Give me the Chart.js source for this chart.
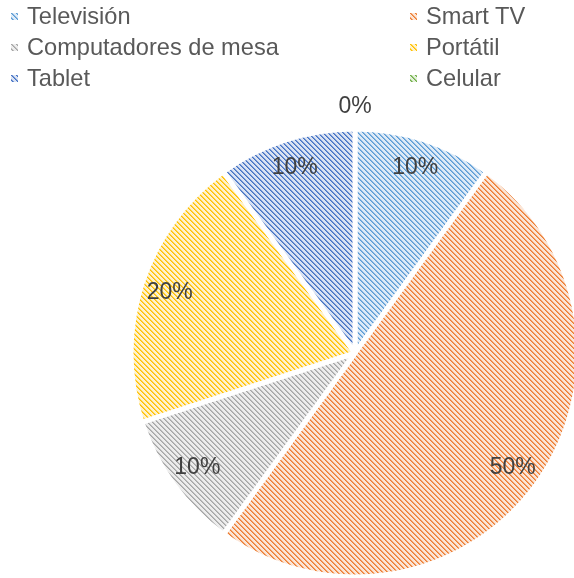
<!DOCTYPE html>
<html>
<head>
<meta charset="utf-8">
<script src="https://cdn.jsdelivr.net/npm/chart.js@4.4.1/dist/chart.umd.min.js"></script>
<style>
  body { margin: 0; background: #fff; }
  #wrap { position: relative; width: 574px; height: 578px; overflow: hidden; }
  #grafico { position: absolute; left: 0; top: 0; }
  .item { position: absolute; font: 23.6px "Liberation Sans", Arial, sans-serif; color: #595959; line-height: 31px; white-space: nowrap; }
  .item canvas { position: absolute; left: -16px; top: 12px; }
</style>
</head>
<body>
<div id="wrap">
  <canvas id="grafico" width="574" height="578"></canvas>
  <div id="leyenda"></div>
</div>
<script>
const categorias = ['Televisión', 'Smart TV', 'Computadores de mesa', 'Portátil', 'Tablet', 'Celular']
const porcentajes = [10, 50, 10, 20, 10, 0]
const coloresLinea = ['#5B9BD5', '#ED7D31', '#A5A5A5', '#FFC000', '#4472C4', '#70AD47']
const coloresFondo = ['#DEEBF7', '#FBE5D6', '#EDEDED', '#FFF2CC', '#DAE3F3', '#E2F0D9']

// tile 5x5 con rayas diagonales "\"
function rayado(linea, fondo) {
    const n = 5
    let t = document.createElement('canvas')
    t.width = n; t.height = n
    let g = t.getContext('2d')
    g.fillStyle = fondo
    g.fillRect(0, 0, n, n)
    g.fillStyle = linea
    for (let y = 0; y < n; y++) {
        g.globalAlpha = 1
        g.fillRect(y, y, 1, 1)
        g.globalAlpha = 0.65
        g.fillRect((y + 1) % n, y, 1, 1)
    }
    return t
}

const canvas = document.getElementById('grafico')
const ctx = canvas.getContext('2d')
const tiles = coloresLinea.map((c, i) => rayado(c, coloresFondo[i]))
const patrones = tiles.map(t => ctx.createPattern(t, 'repeat'))

// porcentajes sobre cada porcion
const etiquetas = {
    id: 'etiquetas',
    afterDatasetsDraw(chart) {
        const c = chart.ctx
        const arcos = chart.getDatasetMeta(0).data
        c.save()
        c.font = '23px "Liberation Sans", Arial, sans-serif'
        c.fillStyle = '#404040'
        c.textAlign = 'center'
        c.textBaseline = 'middle'
        arcos.forEach((arco, i) => {
            const p = arco.getProps(['x', 'y', 'startAngle', 'endAngle', 'outerRadius'])
            const medio = (p.startAngle + p.endAngle) / 2
            const r = porcentajes[i] === 0 ? p.outerRadius + 22 : p.outerRadius * 0.87
            c.fillText(porcentajes[i] + '%', p.x + Math.cos(medio) * r, p.y + Math.sin(medio) * r)
        })
        c.restore()
    }
}

new Chart(ctx, {
    type: 'pie',
    data: {
        labels: categorias,
        datasets: [{
            data: porcentajes,
            backgroundColor: patrones,
            borderColor: '#ffffff',
            borderWidth: 5,
            radius: 224,
            clip: false
        }]
    },
    options: {
        responsive: false,
        animation: false,
        layout: { padding: { left: 136, top: 128, right: 0, bottom: 0 } },
        plugins: { legend: { display: false }, tooltip: { enabled: false } }
    },
    plugins: [etiquetas]
})

// leyenda en dos columnas
const leyenda = document.getElementById('leyenda')
categorias.forEach((nombre, i) => {
    let d = document.createElement('div')
    d.className = 'item'
    d.style.left = (i % 2 ? 426 : 27) + 'px'
    d.style.top = (1 + Math.floor(i / 2) * 31) + 'px'
    let m = document.createElement('canvas')
    m.width = 7; m.height = 7
    let g = m.getContext('2d')
    g.fillStyle = g.createPattern(tiles[i], 'repeat')
    g.fillRect(0, 0, 7, 7)
    d.appendChild(m)
    d.appendChild(document.createTextNode(nombre))
    leyenda.appendChild(d)
})
</script>
</body>
</html>
